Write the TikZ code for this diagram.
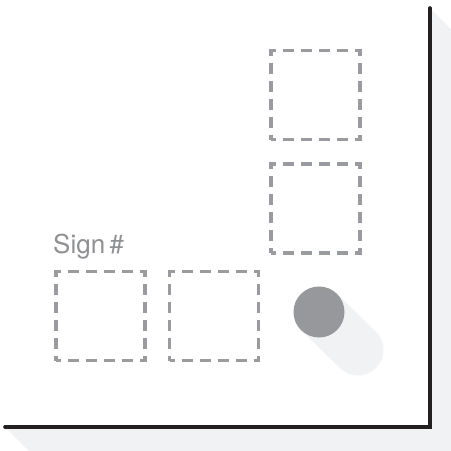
\documentclass[tikz,border=0pt]{standalone}
\usepackage{fontspec}
\setmainfont{TeX Gyre Heros}
\usetikzlibrary{positioning}
\definecolor{wlink}{RGB}{35,31,32}
\definecolor{wshade}{RGB}{241,242,244}
\definecolor{slotgray}{RGB}{154,155,159}
\definecolor{knobgray}{RGB}{151,152,156}
\definecolor{labelgray}{RGB}{143,144,148}

\begin{document}
\begin{tikzpicture}[
  x=1pt,y=-1pt,
  font=\fontsize{26}{30}\selectfont,
  slot/.style={draw=slotgray,line width=3.6pt,minimum width=89pt,minimum height=89pt,inner sep=0pt,
               dash pattern=on 10pt off 7pt on 11pt off 7pt on 11pt off 7pt on 11pt off 7pt on 11pt off 7pt,
               dash phase=5pt},
  knob/.style={circle,fill=knobgray,minimum size=51pt,inner sep=0pt},
  wallline/.style={line width=3.6pt,wlink,line cap=round,line join=miter}
]
  \useasboundingbox (0,0) rectangle (451,451);
  % shadow of the walls
  \begin{scope}
    \clip (0,0) rectangle (451,451);
    \fill[wshade] (5,427) -- (430,427) -- (430,8) -- (480,58) -- (480,477) -- (55,477) -- cycle;
  \end{scope}
  \fill[white] (5,8) rectangle (430,427);
  % slots
  \node[slot] (slotTop) at (315.5,95) {};
  \node[slot] (slotMid) at (315.5,208.5) {};
  \node[slot] (slotLeft) at (100.5,316) {};
  \node[slot] (slotCenter) at (214,316) {};
  \node[anchor=base west,text=labelgray,inner sep=0pt] (signlabel) at (53,253) {Sign\,\#};
  % knob and its shadow
  \coordinate (knobpos) at (319,312);
  \coordinate (knobshade) at (358,350);
  \draw[wshade,line width=51pt,line cap=round] (knobpos) -- (knobshade);
  \node[knob] (knob) at (knobpos) {};
  % walls
  \draw[wallline] (5,427) -- (430,427) -- (430,8);
\end{tikzpicture}
\end{document}
